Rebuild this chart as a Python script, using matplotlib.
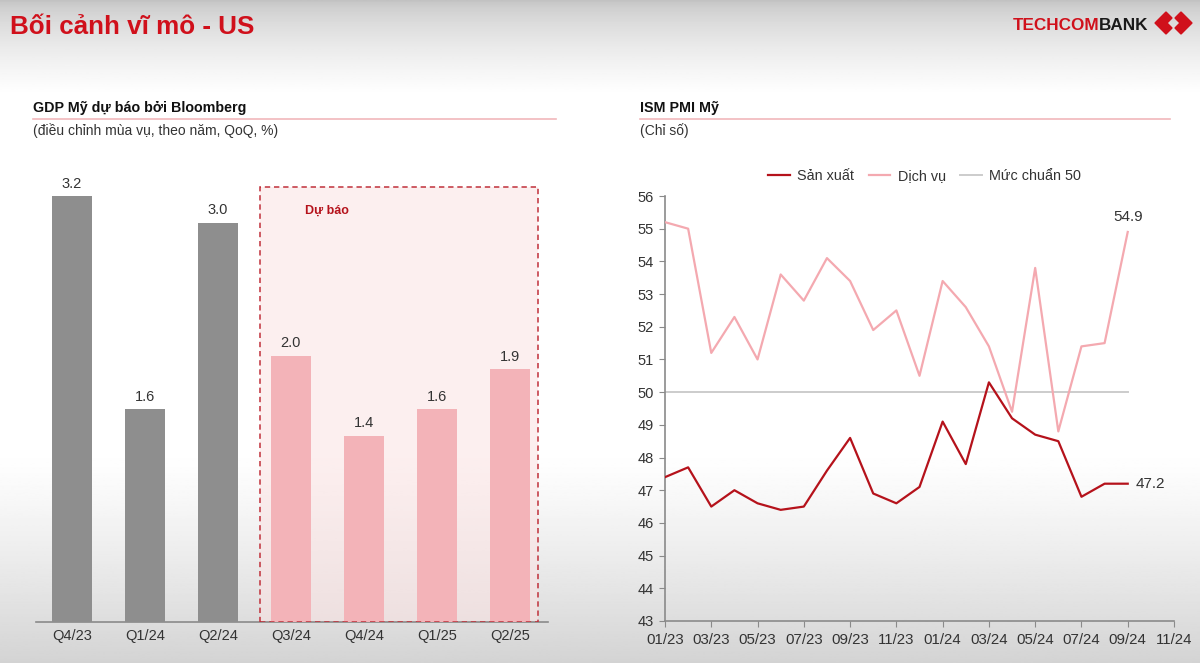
"""Boi canh vi mo - US: GDP forecast bars + ISM PMI lines."""

import numpy as np
import matplotlib
matplotlib.use("Agg")
import matplotlib.pyplot as plt
from matplotlib.patches import Rectangle, Polygon
from matplotlib.lines import Line2D

plt.rcParams["font.family"] = ["Liberation Sans", "DejaVu Sans"]

W, H = 1200, 663

RED = "#d0101b"
DARK_RED = "#b5121b"
PINK = "#f4a9b0"
BAR_GRAY = "#8e8e8e"
BAR_PINK = "#f3b3b8"
TEXT = "#333333"
AXIS = "#8a8a8a"

# GDP (Bloomberg)
GDP_QUARTERS = ["Q4/23", "Q1/24", "Q2/24", "Q3/24", "Q4/24", "Q1/25", "Q2/25"]
GDP_VALUES = [3.2, 1.6, 3.0, 2.0, 1.4, 1.6, 1.9]
N_ACTUAL = 3  # first three are actuals, the rest forecast

# ISM PMI, monthly 01/23 .. 09/24
PMI_MONTHS = ["01/23", "02/23", "03/23", "04/23", "05/23", "06/23", "07/23",
              "08/23", "09/23", "10/23", "11/23", "12/23", "01/24", "02/24",
              "03/24", "04/24", "05/24", "06/24", "07/24", "08/24", "09/24"]
PMI_MANUF = [47.4, 47.7, 46.5, 47.0, 46.6, 46.4, 46.5, 47.6, 48.6, 46.9, 46.6,
             47.1, 49.1, 47.8, 50.3, 49.2, 48.7, 48.5, 46.8, 47.2, 47.2]
PMI_SERV = [55.2, 55.0, 51.2, 52.3, 51.0, 53.6, 52.8, 54.1, 53.4, 51.9, 52.5,
            50.5, 53.4, 52.6, 51.4, 49.4, 53.8, 48.8, 51.4, 51.5, 54.9]
BENCHMARK = 50
PMI_XTICKS = ["01/23", "03/23", "05/23", "07/23", "09/23", "11/23",
              "01/24", "03/24", "05/24", "07/24", "09/24", "11/24"]


def px(x, y):
    return x / W, 1 - y / H


def draw_background(fig):
    bg = fig.add_axes([0, 0, 1, 1], zorder=-10)
    y = np.linspace(0, 1, 400)
    shade = np.ones_like(y)
    top = y < 0.14
    shade[top] = 0.76 + 0.24 * (y[top] / 0.14) ** 0.6
    bot = y > 0.68
    shade[bot] = 1 - 0.17 * ((y[bot] - 0.68) / 0.32) ** 1.2
    img = np.repeat(shade[:, None], 2, axis=1)
    bg.imshow(img, cmap="gray", vmin=0, vmax=1, aspect="auto",
              extent=[0, 1, 0, 1], origin="upper")
    bg.axis("off")


def draw_header(fig):
    fig.text(*px(10, 27), "Bối cảnh vĩ mô - US", color=RED, fontsize=18.7,
             fontweight="bold", va="center", ha="left")
    fig.text(*px(1148, 25), "BANK", color="#1a1a1a", fontsize=12.3,
             fontweight="bold", va="center", ha="right")
    fig.text(*px(1099.5, 25), "TECHCOM", color=RED, fontsize=12.3,
             fontweight="bold", va="center", ha="right")
    # logo: two chevrons
    left = [(1155, 23), (1166, 12), (1172, 18), (1167, 23), (1172, 28), (1166, 34)]
    right = [(1192, 23), (1181, 12), (1175, 18), (1180, 23), (1175, 28), (1181, 34)]
    for shape in (left, right):
        fig.patches.append(Polygon([px(x, y) for x, y in shape], closed=True,
                                   transform=fig.transFigure, color=RED))

    for x0, x1, title, sub in [(33, 556, "GDP Mỹ dự báo bởi Bloomberg",
                                "(điều chỉnh mùa vụ, theo năm, QoQ, %)"),
                               (640, 1170, "ISM PMI Mỹ", "(Chỉ số)")]:
        fig.text(*px(x0, 108), title, color="#111111", fontsize=10.3,
                 fontweight="bold", va="center", ha="left")
        fig.add_artist(Line2D([x0 / W, x1 / W], [1 - 119 / H] * 2,
                              color="#f1b8bb", linewidth=1.2))
        fig.text(*px(x0, 131), sub, color=TEXT, fontsize=10,
                 va="center", ha="left")


def draw_gdp(fig):
    ax = fig.add_axes([36 / W, 41 / H, 512 / W, 462 / H])
    x = np.arange(len(GDP_VALUES))
    colors = [BAR_GRAY if i < N_ACTUAL else BAR_PINK for i in x]
    bars = ax.bar(x, GDP_VALUES, width=0.55, color=colors, zorder=3)
    for b, v in zip(bars, GDP_VALUES):
        ax.annotate(f"{v:.1f}", (b.get_x() + b.get_width() / 2, v),
                    xytext=(0, 4), textcoords="offset points", ha="center",
                    va="bottom", fontsize=10.5, color=TEXT)

    ax.set_xlim(-0.49, len(GDP_VALUES) - 0.48)
    ax.set_ylim(0, 3.474)
    x0 = N_ACTUAL - 0.425
    x1 = len(GDP_VALUES) - 1 + 0.38
    ax.add_patch(Rectangle((x0, 0), x1 - x0, 3.27, facecolor="#fbe2e2",
                           alpha=0.55, edgecolor="none", zorder=1))
    ax.add_patch(Rectangle((x0, 0), x1 - x0, 3.27, facecolor="none",
                           edgecolor="#c0303a", linestyle=(0, (3.5, 2.5)),
                           linewidth=1.1, zorder=4))
    ax.text(x0 + 0.92, 3.09, "Dự báo", color=DARK_RED, fontsize=9,
            fontweight="bold", ha="center", va="center")

    ax.set_xticks(x)
    ax.set_xticklabels(GDP_QUARTERS, fontsize=10.5, color=TEXT)
    ax.tick_params(axis="x", length=0, pad=5)
    ax.set_yticks([])
    for s in ("top", "right", "left"):
        ax.spines[s].set_visible(False)
    ax.spines["bottom"].set_color(AXIS)
    ax.spines["bottom"].set_linewidth(1.2)
    ax.patch.set_alpha(0)


def draw_pmi(fig):
    ax = fig.add_axes([665 / W, 42 / H, 509 / W, 425 / H])
    x = np.arange(len(PMI_MONTHS))
    ax.plot(x, [BENCHMARK] * len(x), color="#cccccc", linewidth=1.4,
            label="Mức chuẩn 50", zorder=2)
    ax.plot(x, PMI_SERV, color=PINK, linewidth=1.6, label="Dịch vụ", zorder=3)
    ax.plot(x, PMI_MANUF, color=DARK_RED, linewidth=1.6, label="Sản xuất", zorder=4)

    ax.annotate(f"{PMI_SERV[-1]:.1f}", (x[-1], PMI_SERV[-1]), xytext=(0, 6),
                textcoords="offset points", ha="center", va="bottom",
                fontsize=11, color=TEXT)
    ax.annotate(f"{PMI_MANUF[-1]:.1f}", (x[-1], PMI_MANUF[-1]), xytext=(6, 0),
                textcoords="offset points", ha="left", va="center",
                fontsize=11, color=TEXT)

    all_months = PMI_MONTHS + ["10/24", "11/24"]
    ax.set_xlim(0, len(all_months) - 1)
    ax.set_ylim(43, 56)
    ax.set_xticks([all_months.index(m) for m in PMI_XTICKS])
    ax.set_xticklabels(PMI_XTICKS, fontsize=10.8, color=TEXT)
    ax.set_yticks(range(43, 57))
    ax.tick_params(axis="y", labelsize=10.5, labelcolor=TEXT, color=AXIS,
                   length=4, direction="out", pad=4)
    ax.tick_params(axis="x", color=AXIS, length=4, direction="out", pad=5)
    for s in ("top", "right"):
        ax.spines[s].set_visible(False)
    for s in ("left", "bottom"):
        ax.spines[s].set_color(AXIS)
        ax.spines[s].set_linewidth(1.2)
    ax.patch.set_alpha(0)

    handles, labels = ax.get_legend_handles_labels()
    order = [2, 1, 0]
    ax.legend([handles[i] for i in order], [labels[i] for i in order],
              loc="lower center", bbox_to_anchor=(0.51, 1.0), ncol=3,
              frameon=False, fontsize=10.4, handlelength=1.5, columnspacing=1.0,
              handletextpad=0.5, labelcolor=TEXT)


def main():
    fig = plt.figure(figsize=(W / 100, H / 100), dpi=100)
    draw_background(fig)
    draw_header(fig)
    draw_gdp(fig)
    draw_pmi(fig)
    fig.savefig("out.png", dpi=100)


if __name__ == "__main__":
    main()
